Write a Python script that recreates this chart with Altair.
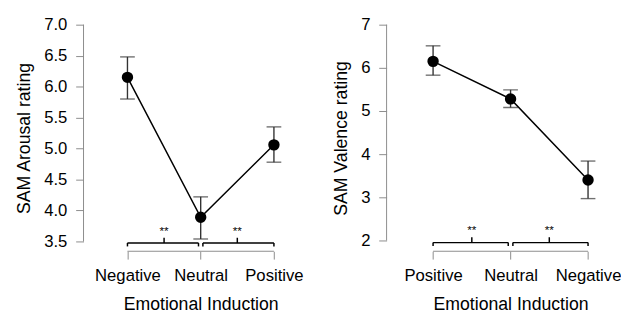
import altair as alt
import pandas as pd

# ---- data ----
LEFT_CATS = ["Negative", "Neutral", "Positive"]
LEFT_MEAN = [6.15, 3.89, 5.06]
LEFT_LO = [5.80, 3.54, 4.78]
LEFT_HI = [6.48, 4.22, 5.35]
LEFT_TICKS = [3.5, 4.0, 4.5, 5.0, 5.5, 6.0, 6.5, 7.0]
LEFT_YDOM = [3.342, 7.0]

RIGHT_CATS = ["Positive", "Neutral", "Negative"]
RIGHT_MEAN = [6.15, 5.28, 3.40]
RIGHT_LO = [5.83, 5.08, 2.97]
RIGHT_HI = [6.51, 5.49, 3.84]
RIGHT_TICKS = [2, 3, 4, 5, 6, 7]
RIGHT_YDOM = [1.75, 7.0]

X_POS = [1, 2, 3]
X_DOMAIN = [0.4, 3.4]

# significance brackets (data units)
BR_START = [1.0, 2.03]
BR_END = [1.97, 3.0]
BR_MID = [1.5, 2.5]
BR_LABEL = ["**", "**"]
LEFT_BR = {"line": 3.476, "end": 3.42, "tick": 3.56, "star": 3.66}
RIGHT_BR = {"line": 1.95, "end": 1.87, "tick": 2.075, "star": 2.25}

AXIS_GRAY = "#8c8c8c"
ERR_COLOR = "#333333"
FONT = "Liberation Sans"


def panel(cats, mean, lo, hi, ticks, ydom, ytitle, yfmt, br, width, height):
    df = pd.DataFrame({"x": X_POS, "cat": cats, "mean": mean, "lo": lo, "hi": hi})
    label_expr = "".join(
        f"datum.value == {p} ? '{c}' : " for p, c in zip(X_POS[:-1], cats[:-1])
    ) + f"'{cats[-1]}'"
    xscale = alt.Scale(domain=X_DOMAIN, nice=False, zero=False)
    yscale = alt.Scale(domain=ydom, nice=False, zero=False)
    title_x = (X_POS[1] - X_DOMAIN[0]) / (X_DOMAIN[1] - X_DOMAIN[0]) * width
    xaxis = alt.Axis(values=X_POS, labelExpr=label_expr, titleX=title_x, titlePadding=12)
    yaxis = alt.Axis(values=ticks, format=yfmt)
    xt = "Emotional Induction"

    base = alt.Chart(df)
    X = lambda f: alt.X(f"{f}:Q", scale=xscale, axis=xaxis, title=xt)
    Y = lambda f: alt.Y(f"{f}:Q", scale=yscale, axis=yaxis, title=ytitle)

    line = base.mark_line(color="black", strokeWidth=1.5).encode(x=X("x"), y=Y("mean"))
    err = base.mark_rule(color=ERR_COLOR, strokeWidth=1.4).encode(
        x=X("x"), y=Y("lo"), y2="hi:Q"
    )
    cap_lo = base.mark_tick(orient="horizontal", size=15, thickness=1.4, color=ERR_COLOR).encode(
        x=X("x"), y=Y("lo")
    )
    cap_hi = base.mark_tick(orient="horizontal", size=15, thickness=1.4, color=ERR_COLOR).encode(
        x=X("x"), y=Y("hi")
    )
    pts = base.mark_circle(size=135, color="black", opacity=1).encode(x=X("x"), y=Y("mean"))

    # y axis line (R style: only between first and last tick)
    yline_df = pd.DataFrame({"y": [ticks[0]], "y2": [ticks[-1]]})
    yline = alt.Chart(yline_df).mark_rule(color=AXIS_GRAY, strokeWidth=1).encode(
        x=alt.datum(X_DOMAIN[0]), y=Y("y"), y2="y2:Q"
    )
    # x axis line (only between first and last category)
    xline_df = pd.DataFrame({"x": [X_POS[0]], "x2": [X_POS[-1]], "y": [ydom[0]]})
    xline = alt.Chart(xline_df).mark_rule(color=AXIS_GRAY, strokeWidth=1).encode(
        x=X("x"), x2="x2:Q", y=Y("y")
    )

    # brackets
    segs = {"x": [], "x2": [], "y": [], "y2": []}
    for s, e, m in zip(BR_START, BR_END, BR_MID):
        for a, b, c, d in [
            (s, e, br["line"], br["line"]),
            (s, s, br["line"], br["end"]),
            (e, e, br["line"], br["end"]),
            (m, m, br["line"], br["tick"]),
        ]:
            segs["x"].append(a)
            segs["x2"].append(b)
            segs["y"].append(c)
            segs["y2"].append(d)
    seg_df = pd.DataFrame(segs)
    brackets = alt.Chart(seg_df).mark_rule(color="black", strokeWidth=1.5).encode(
        x=X("x"), x2="x2:Q", y=Y("y"), y2="y2:Q"
    )
    star_df = pd.DataFrame({"x": BR_MID, "y": [br["star"]] * len(BR_MID), "t": BR_LABEL})
    stars = alt.Chart(star_df).mark_text(
        font=FONT, fontSize=12, color="black", baseline="middle"
    ).encode(x=X("x"), y=Y("y"), text="t:N")

    return alt.layer(
        yline, xline, err, cap_lo, cap_hi, line, pts, brackets, stars
    ).properties(width=width, height=height)


left = panel(LEFT_CATS, LEFT_MEAN, LEFT_LO, LEFT_HI, LEFT_TICKS, LEFT_YDOM,
             "SAM Arousal rating", ".1f", LEFT_BR, 224, 231)
right = panel(RIGHT_CATS, RIGHT_MEAN, RIGHT_LO, RIGHT_HI, RIGHT_TICKS, RIGHT_YDOM,
              "SAM Valence rating", "d", RIGHT_BR, 237, 231)

chart = alt.hconcat(left, right, spacing=30).properties(
    padding={"left": 8, "top": 5, "right": 0, "bottom": 0}
).configure_view(strokeWidth=0).configure_axis(
    domain=False,
    grid=False,
    tickColor=AXIS_GRAY,
    tickSize=8,
    tickWidth=1,
    labelPadding=9,
    labelFont=FONT,
    labelFontSize=17,
    labelColor="black",
    titleFont=FONT,
    titleFontSize=18,
    titleFontWeight="normal",
    titleColor="black",
    titlePadding=10,
)

chart.save("out.html", embed_options={"renderer": "svg", "actions": False})
